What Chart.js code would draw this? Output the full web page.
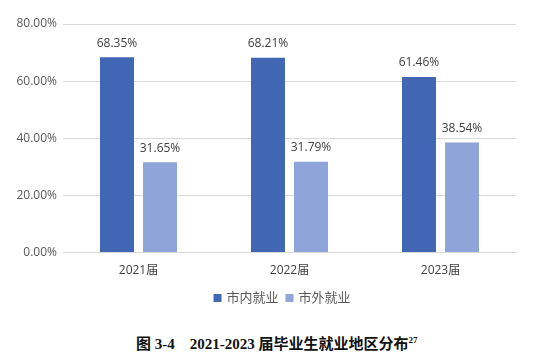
<!DOCTYPE html>
<html><head><meta charset="utf-8">
<script src="https://cdn.jsdelivr.net/npm/chart.js@4/dist/chart.umd.min.js"></script>
<style>
html,body{margin:0;padding:0;background:#fff;}
#wrap{position:relative;width:547px;height:362px;}
#c{position:absolute;left:0;top:0;}
#cap{position:absolute;left:136px;top:332px;font-family:"Liberation Serif","Noto Sans CJK SC",serif;font-weight:bold;font-size:15px;color:#111;white-space:pre;}
#cap sup{font-size:9px;}
</style></head>
<body><div id="wrap"><canvas id="c" width="547" height="317"></canvas>
<div id="cap">图 3-4    2021-2023 届毕业生就业地区分布<sup>27</sup></div></div>
<script>
const categories = ["2021届","2022届","2023届"];
const seriesNames = ["市内就业","市外就业"];
const inCity = [68.35, 68.21, 61.46];
const outCity = [31.65, 31.79, 38.54];
const yTicks = [0,20,40,60,80];

const fontFam = '"Open Sans","Noto Sans CJK SC",sans-serif';
const labelPlugin = {
  id:'barLabels',
  afterDatasetsDraw(chart){
    const ctx = chart.ctx;
    ctx.save();
    ctx.font = '12px ' + fontFam;
    ctx.fillStyle = '#404040';
    ctx.textAlign = 'center';
    ctx.textBaseline = 'bottom';
    chart.data.datasets.forEach((ds,i)=>{
      chart.getDatasetMeta(i).data.forEach((bar,j)=>{
        ctx.fillText(ds.data[j].toFixed(2)+'%', bar.x, bar.y - 8);
      });
    });
    ctx.restore();
  }
};
const legendPlugin = {
  id:'customLegend',
  afterDraw(chart){
    const ctx = chart.ctx;
    ctx.save();
    ctx.font = '13px ' + fontFam;
    ctx.textBaseline = 'middle';
    const y = 298;
    const items = chart.data.datasets.map(d=>({t:d.label,c:d.backgroundColor,w:ctx.measureText(d.label).width}));
    const box = 8, gap = 5, sep = 7;
    let total = 0;
    items.forEach((it,i)=>{ total += box + gap + it.w + (i<items.length-1?sep:0); });
    let x = 282 - total/2;
    items.forEach(it=>{
      ctx.fillStyle = it.c;
      ctx.fillRect(x, y-box/2, box, box);
      x += box + gap;
      ctx.fillStyle = '#595959';
      ctx.fillText(it.t, x, y);
      x += it.w + sep;
    });
    ctx.restore();
  }
};

new Chart(document.getElementById('c'), {
  type:'bar',
  data:{
    labels:categories,
    datasets:[
      {label:seriesNames[0], data:inCity, backgroundColor:'#4066B4', barPercentage:0.79, categoryPercentage:0.57},
      {label:seriesNames[1], data:outCity, backgroundColor:'#8FA4D8', barPercentage:0.79, categoryPercentage:0.57}
    ]
  },
  options:{
    responsive:false, animation:false,
    layout:{padding:{top:24,right:31,left:0,bottom:36}},
    plugins:{
      legend:{display:false},
      tooltip:{enabled:false}
    },
    scales:{
      x:{grid:{display:false}, border:{display:true,color:'#d9d9d9'}, ticks:{color:'#404040', font:{size:12,family:fontFam}}},
      y:{min:0,max:80, afterBuildTicks(s){s.ticks = yTicks.map(v=>({value:v}));},
         afterFit(s){s.width=63;},
         grid:{color:'#d9d9d9', drawTicks:false}, border:{display:false},
         ticks:{padding:6, color:'#595959', font:{size:12,family:fontFam}, callback:v=>v.toFixed(2)+'%'}}
    }
  },
  plugins:[labelPlugin, legendPlugin]
});
</script></body></html>
